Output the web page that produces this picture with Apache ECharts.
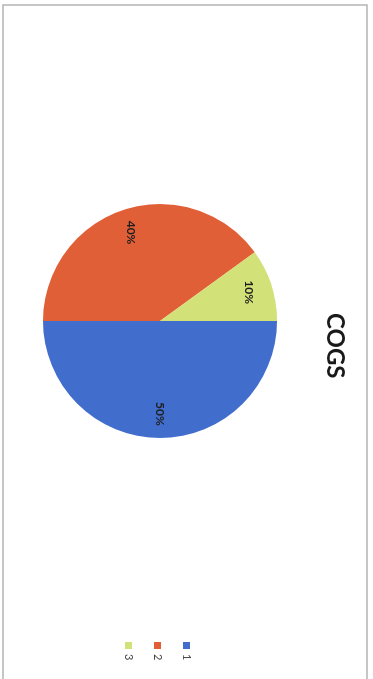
<!DOCTYPE html>
<html>
    <head>
        <meta charset="utf-8">
        <title>COGS</title>
        <script src="https://cdn.jsdelivr.net/npm/echarts@6/dist/echarts.min.js"></script>
        <style>
            html, body { margin: 0; padding: 0; background: #fff; overflow: hidden; }
            /* the scan is turned a quarter clockwise, so the chart is drawn flat and rotated */
            #chart1 {
                position: absolute; left: 0; top: 0;
                width: 679px; height: 373px;
                transform-origin: 0 0;
                transform: translate(373px, 0) rotate(90deg);
            }
        </style>
    </head>
    <body>
        <div id="chart1"></div>
        <script type="text/javascript">
            var chartTitle = 'COGS';
            var categories = ['1', '2', '3'];
            var values = [50, 40, 10];
            var colors = ['#416ecd', '#e15f37', '#d2e178'];

            var myChart1 = echarts.init(document.getElementById('chart1'));

            var pieData = categories.map(function (name, i) {
                return { name: name, value: values[i], itemStyle: { color: colors[i] } };
            });

            myChart1.setOption({
                animation: false,
                color: colors,
                title: {
                    text: chartTitle,
                    left: 308,
                    top: 21,
                    textStyle: { fontFamily: 'Lato', fontWeight: 'bold', fontSize: 24, color: '#1a1a1a' }
                },
                legend: {
                    orient: 'vertical',
                    left: 637,
                    top: 176,
                    itemWidth: 7,
                    itemHeight: 7,
                    itemGap: 18,
                    icon: 'rect',
                    data: categories,
                    textStyle: { fontFamily: 'Lato', fontSize: 11, color: '#444' }
                },
                graphic: [{
                    type: 'rect',
                    shape: { x: 5, y: 6, width: 720, height: 364 },
                    style: { fill: 'none', stroke: '#b4b4b4', lineWidth: 1.5 },
                    silent: true
                }],
                series: [
                    {
                        name: chartTitle,
                        type: 'pie',
                        center: [321, 213],
                        radius: [0, 117],
                        startAngle: 90,
                        clockwise: true,
                        data: pieData,
                        label: { show: false },
                        labelLine: { show: false }
                    },
                    {
                        // ring only carries the percent labels further out
                        name: chartTitle + ' labels',
                        type: 'pie',
                        center: [321, 213],
                        radius: [63, 117],
                        startAngle: 90,
                        clockwise: true,
                        silent: true,
                        legendHoverLink: false,
                        data: categories.map(function (name, i) {
                            return { name: name, value: values[i], itemStyle: { color: 'rgba(0,0,0,0)' } };
                        }),
                        label: {
                            show: true,
                            position: 'inside',
                            formatter: '{d}%',
                            fontFamily: 'Lato',
                            fontWeight: 'bold',
                            fontSize: 12,
                            color: '#1e1e1e'
                        },
                        labelLine: { show: false }
                    }
                ]
            });
        </script>
    </body>
</html>
